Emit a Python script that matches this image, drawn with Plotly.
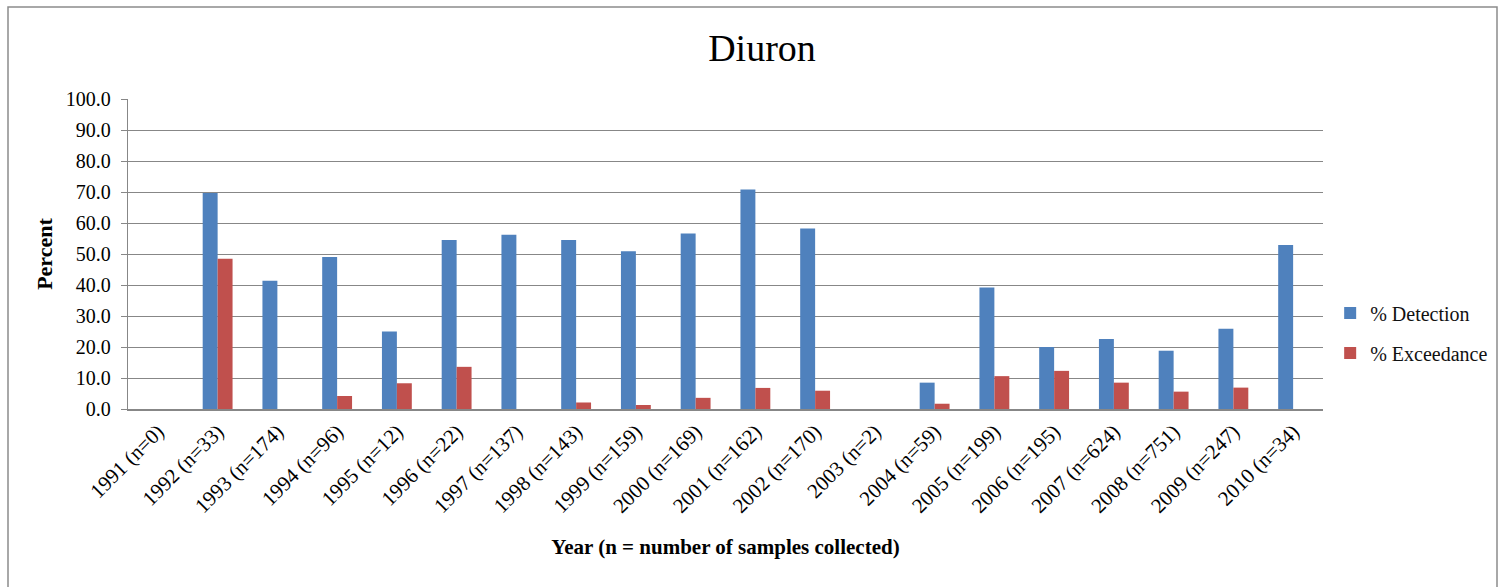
import plotly.graph_objects as go

years = ["1991 (n=0)", "1992 (n=33)", "1993 (n=174)", "1994 (n=96)", "1995 (n=12)",
         "1996 (n=22)", "1997 (n=137)", "1998 (n=143)", "1999 (n=159)", "2000 (n=169)",
         "2001 (n=162)", "2002 (n=170)", "2003 (n=2)", "2004 (n=59)", "2005 (n=199)",
         "2006 (n=195)", "2007 (n=624)", "2008 (n=751)", "2009 (n=247)", "2010 (n=34)"]
detection = [0.0, 69.7, 41.4, 49.0, 25.0, 54.5, 56.2, 54.5, 50.9, 56.6,
             70.8, 58.2, 0.0, 8.5, 39.2, 20.0, 22.6, 18.8, 25.9, 52.9]
exceedance = [0.0, 48.5, 0.0, 4.2, 8.3, 13.6, 0.0, 2.1, 1.3, 3.6,
              6.8, 5.9, 0.0, 1.7, 10.6, 12.3, 8.5, 5.6, 6.9, 0.0]
y_ticks = [0, 10, 20, 30, 40, 50, 60, 70, 80, 90, 100]

FONT = "Liberation Serif"
GRID = "#878787"

fig = go.Figure()
fig.add_trace(go.Bar(x=years, y=detection, name="% Detection",
                     marker=dict(color="#4F81BD", line=dict(width=0)),
                     legendgroup="d"))
fig.add_trace(go.Bar(x=years, y=exceedance, name="% Exceedance",
                     marker=dict(color="#C0504D", line=dict(width=0)),
                     legendgroup="e"))

fig.update_layout(
    width=1498, height=587,
    margin=dict(l=128, r=175, t=99, b=178, autoexpand=False),
    paper_bgcolor="white", plot_bgcolor="white",
    barmode="group", bargap=0.5, bargroupgap=0,
    font=dict(family=FONT, color="black", size=20),
    title=dict(text="Diuron", x=762 / 1498, xanchor="center",
               y=1 - 48 / 587, yanchor="middle",
               font=dict(family=FONT, size=38, color="black")),
    legend=dict(x=1.006, xanchor="left", y=0.245, yanchor="middle",
                traceorder="grouped", tracegroupgap=11,
                font=dict(family=FONT, size=20, color="#111111"),
                itemwidth=30, bgcolor="rgba(0,0,0,0)"),
    showlegend=True,
)

fig.update_yaxes(
    range=[0, 100], tickvals=y_ticks, tickformat=".1f",
    showgrid=True, gridcolor=GRID, gridwidth=1.4,
    showline=True, linecolor=GRID, linewidth=1.4,
    ticks="outside", ticklen=6, tickcolor=GRID, tickwidth=1.4,
    ticklabelstandoff=6,
    zeroline=False,
    tickfont=dict(family=FONT, size=20, color="black"),
    title=dict(text="<b>Percent</b>", standoff=7,
               font=dict(family=FONT, size=22, color="black")),
)
fig.update_xaxes(
    tickangle=-45, showline=True, linecolor=GRID, linewidth=1.6,
    showgrid=False, ticks="",
    tickfont=dict(family=FONT, size=21, color="black"),
    title=dict(text="<b>Year (n = number of samples collected)</b>", standoff=22,
               font=dict(family=FONT, size=21, color="black")),
)

# outer chart border
fig.add_shape(type="rect", xref="paper", yref="paper",
              x0=(8 - 128) / 1195, x1=(1497 - 128) / 1195,
              y0=-0.7, y1=1 + (99 - 7) / 310,
              line=dict(color="#8c8c8c", width=1.5), fillcolor="rgba(0,0,0,0)",
              layer="below")

fig.write_html("out.html")
